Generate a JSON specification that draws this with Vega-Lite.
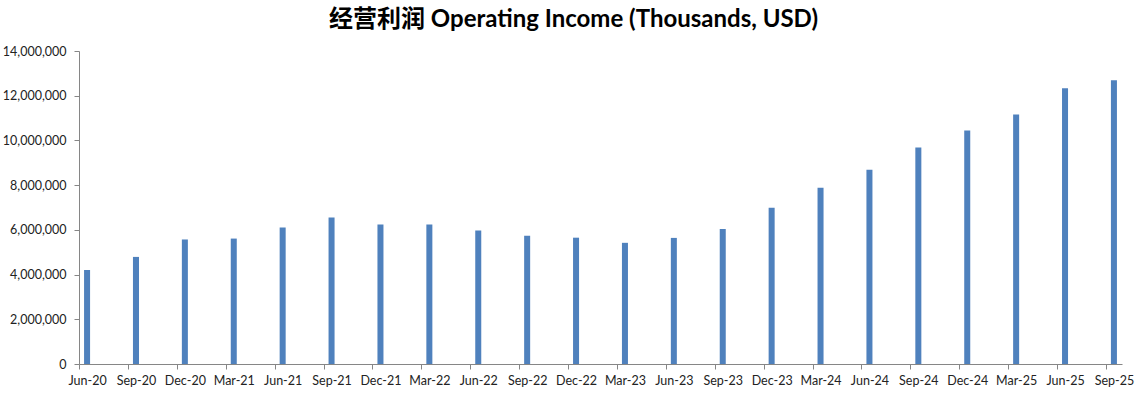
{
  "$schema": "https://vega.github.io/schema/vega-lite/v6.json",
  "width": 1043,
  "height": 313,
  "autosize": "none",
  "padding": {"left": 79, "top": 51, "right": 25, "bottom": 31},
  "background": "white",
  "title": {
    "text": "经营利润 Operating Income (Thousands, USD)",
    "font": "Lato, 'Noto Sans CJK SC'",
    "fontSize": 24,
    "fontWeight": "bold",
    "color": "#000000",
    "anchor": "middle",
    "dx": -27,
    "dy": 10,
    "offset": 23
  },
  "data": {
    "values": [
      {"quarter": "Jun-20", "income": 4200000},
      {"quarter": "Sep-20", "income": 4790000},
      {"quarter": "Dec-20", "income": 5570000},
      {"quarter": "Mar-21", "income": 5610000},
      {"quarter": "Jun-21", "income": 6100000},
      {"quarter": "Sep-21", "income": 6550000},
      {"quarter": "Dec-21", "income": 6240000},
      {"quarter": "Mar-22", "income": 6240000},
      {"quarter": "Jun-22", "income": 5970000},
      {"quarter": "Sep-22", "income": 5740000},
      {"quarter": "Dec-22", "income": 5650000},
      {"quarter": "Mar-23", "income": 5420000},
      {"quarter": "Jun-23", "income": 5640000},
      {"quarter": "Sep-23", "income": 6040000},
      {"quarter": "Dec-23", "income": 6990000},
      {"quarter": "Mar-24", "income": 7880000},
      {"quarter": "Jun-24", "income": 8690000},
      {"quarter": "Sep-24", "income": 9680000},
      {"quarter": "Dec-24", "income": 10440000},
      {"quarter": "Mar-25", "income": 11160000},
      {"quarter": "Jun-25", "income": 12330000},
      {"quarter": "Sep-25", "income": 12690000}
    ]
  },
  "mark": {"type": "bar", "color": "#4F81BD"},
  "encoding": {
    "x": {
      "field": "quarter",
      "type": "ordinal",
      "sort": null,
      "scale": {"paddingInner": 0.877, "paddingOuter": 0.1035},
      "axis": {
        "title": null,
        "labelAngle": 0,
        "bandPosition": 0.5,
        "tickOffset": -8,
        "labelOffset": 8,
        "tickSize": 5,
        "labelPadding": 5,
        "domainColor": "#868686",
        "tickColor": "#868686",
        "labelFont": "Lato",
        "labelFontSize": 12.5,
        "labelColor": "#222222",
        "grid": false
      }
    },
    "y": {
      "field": "income",
      "type": "quantitative",
      "scale": {"domain": [0, 14000000], "nice": false},
      "axis": {
        "title": null,
        "values": [0, 2000000, 4000000, 6000000, 8000000, 10000000, 12000000, 14000000],
        "format": ",d",
        "tickSize": 5,
        "labelPadding": 8,
        "domainColor": "#868686",
        "tickColor": "#868686",
        "labelFont": "Lato",
        "labelFontSize": 12.5,
        "labelColor": "#222222",
        "grid": false
      }
    }
  },
  "config": {"view": {"stroke": null}}
}
